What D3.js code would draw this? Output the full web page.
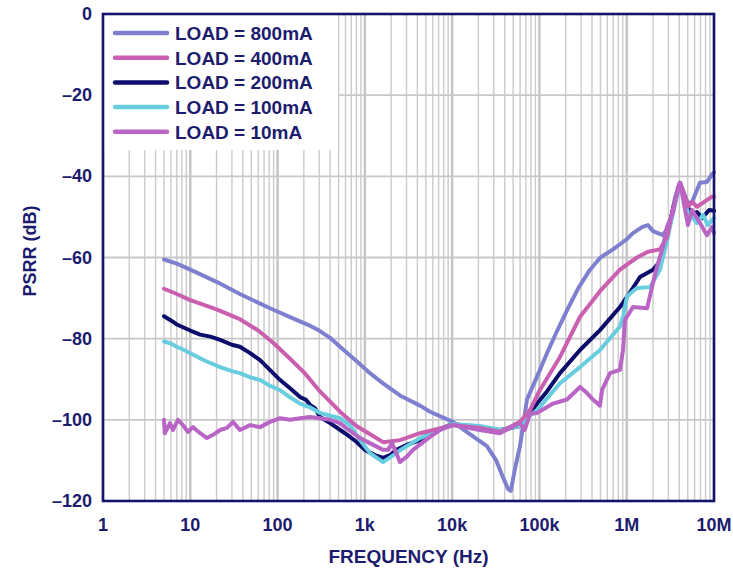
<!DOCTYPE html>
<html>
<head>
<meta charset="utf-8">
<script src="https://cdn.jsdelivr.net/npm/d3@7"></script>
<style>
  body { margin: 0; background: #fff; }
  svg text { font-family: "Liberation Sans", Arial, sans-serif; font-weight: bold; fill: #1c1c6e; }
</style>
</head>
<body>
<svg id="chart" width="733" height="569"></svg>
<script>
// series: [frequency Hz, PSRR dB]
const load800 = [[5,-60.5],[7,-61.5],[10,-63],[20,-66],[37,-69],[82,-72.5],[150,-75],[235,-76.8],[300,-78],[400,-79.8],[519,-82],[800,-85.5],
  [1145,-88.5],[1615,-91],[2525,-94],[4285,-96.5],[5575,-98],[10200,-100.5],[14800,-103],[25000,-106.5],[32000,-110],
  [38000,-114],[43600,-117],[47000,-117.5],[52500,-112],[59800,-106.5],[66000,-100.5],[72000,-95],[100000,-88],[122000,-83.6],
  [160000,-78],[207000,-73],[280000,-67.5],[380000,-63],[500000,-60],[696000,-58],[1000000,-55.5],[1180000,-54],[1500000,-52.5],
  [1750000,-52],[2000000,-53.5],[2600000,-54.5],[3100000,-52],[3600000,-45],[4080000,-41.6],[4500000,-44],[5030000,-46.6],
  [5600000,-46.3],[6900000,-41.6],[8300000,-41.4],[9490000,-39.5],[10000000,-39]];
const load400 = [[5,-67.7],[7,-69],[10,-70.5],[20,-72.8],[37,-75.2],[60,-78],[89,-81],[140,-85],[205,-88.5],[306,-93],[519,-98],
  [800,-101.5],[1240,-104],[1615,-105.5],[2525,-105],[4285,-103.3],[10200,-101.3],[20800,-102],[35300,-103],[59800,-100.5],
  [78000,-97.6],[101000,-92.7],[172000,-84.5],[292000,-74.6],[494000,-68.3],[837000,-63],[1310000,-60],[1750000,-58.6],
  [2400000,-58],[2890000,-55],[3390000,-48],[4080000,-41.6],[4500000,-44],[5030000,-47.5],[5600000,-46.3],[6400000,-47.5],
  [7500000,-46.5],[9490000,-45],[10000000,-45]];
const load200 = [[5,-74.5],[6,-75.5],[7,-76.5],[8.5,-77.3],[10,-78],[13,-79],[17,-79.5],[22,-80.3],[30,-81.5],[37,-82],
  [48,-83.5],[63,-85.3],[80,-87.5],[107,-90.2],[140,-92.3],[181,-94.4],[210,-95],[235,-96.3],[270,-97.2],
  [306,-99.3],[400,-100.8],[592,-103.3],[800,-105.4],[1000,-107.4],[1300,-108.7],[1615,-109.4],[1950,-108.7],[2300,-107.4],
  [3000,-106.2],[4285,-105],[5575,-103.3],[10200,-101],[14800,-101.5],[20800,-101.8],[35300,-102.5],[59800,-101.5],
  [68000,-100],[78000,-98.5],[93800,-96],[122000,-93],[172000,-88.5],[292000,-82.8],[494000,-77.9],[837000,-72.2],
  [1180000,-67.5],[1420000,-64.8],[2000000,-63],[2400000,-61],[2890000,-55],[3390000,-48],[4080000,-41.6],[4500000,-45],
  [5030000,-47.5],[5600000,-50],[6380000,-48.8],[7300000,-50.3],[8800000,-48.3],[10000000,-48.5]];
const load100 = [[5,-80.7],[6,-81.2],[7,-82],[8.5,-82.8],[10,-83.6],[15,-85.5],[22,-87],[30,-88],[37,-88.5],[48,-89.5],
  [63,-90.2],[80,-91.5],[107,-92.7],[140,-94.5],[181,-96],[240,-97],[306,-98.3],[400,-99],[519,-99.6],
  [676,-101.3],[880,-105],[1145,-108.2],[1615,-110.4],[2300,-108.2],[2525,-107.5],[4285,-104.5],[7260,-102.5],[10200,-101],
  [20800,-101.5],[35300,-102.5],[59800,-101.5],[78000,-99],[93800,-97.6],[172000,-91],[292000,-87],[494000,-82.8],
  [837000,-77],[906000,-74.7],[1010000,-69.5],[1310000,-67.5],[1850000,-67.3],[2400000,-63],[2890000,-56],[3390000,-49],
  [4080000,-41.6],[4500000,-45],[5030000,-49],[5600000,-50],[6380000,-51.5],[7500000,-49.5],[8500000,-52],[10000000,-50.3]];
const load10 = [[5,-100],[5.1,-103.3],[5.86,-100.8],[6.34,-102.5],[7.23,-100],[8.25,-101.3],[9.4,-103],[10.7,-101.8],
  [13,-103.3],[15.5,-104.5],[18.2,-103.7],[22,-102.5],[26.3,-102],[30.8,-100.5],[37,-102.5],[48.3,-101.3],[63,-101.8],
  [82,-100.5],[107,-99.6],[139,-100],[181,-99.6],[235,-99.3],[306,-99.6],[399,-100],[519,-100.8],[592,-101.8],[880,-104.5],
  [1615,-107.4],[1840,-107.4],[2050,-105.7],[2525,-110.4],[3040,-109],[3560,-107.4],[5575,-104.2],[7260,-102.5],
  [10200,-101.3],[20800,-102.5],[35300,-103.3],[59800,-100.8],[68000,-102.5],[78000,-98.5],[93800,-98.3],[143000,-96],
  [207000,-95],[292000,-91.9],[351000,-93.4],[411000,-95],[494000,-96.5],[521000,-92.7],[643000,-88.5],[837000,-87.7],
  [906000,-82.8],[955000,-75.4],[1180000,-72.2],[1710000,-72.5],[2000000,-66.3],[2220000,-62.3],[2600000,-57.4],
  [2890000,-52.5],[3390000,-49],[3870000,-42.6],[4080000,-41.6],[5030000,-52],[5600000,-48.3],[6910000,-51.5],
  [8300000,-54.5],[9490000,-52.5],[10000000,-54]];

const labels = ["LOAD = 800mA", "LOAD = 400mA", "LOAD = 200mA", "LOAD = 100mA", "LOAD = 10mA"];
const colors = ["#7e80cf", "#c95fae", "#0c0c6c", "#69cde0", "#b965c5"];
const seriesData = [load800, load400, load200, load100, load10];
const drawOrder = [0, 2, 3, 1, 4];

const xTicks = [1, 10, 100, 1e3, 1e4, 1e5, 1e6, 1e7];
const xTickLabels = ["1", "10", "100", "1k", "10k", "100k", "1M", "10M"];
const yTicks = [0, -20, -40, -60, -80, -100, -120];

const margin = {left: 103, right: 19, top: 14, bottom: 68};
const width = 733, height = 569;

const svg = d3.select("#chart");
const x = d3.scaleLog().domain([1, 1e7]).range([margin.left, width - margin.right]);
const y = d3.scaleLinear().domain([0, -120]).range([margin.top, height - margin.bottom]);

// grid
const minor = [];
for (let d = 1; d < 1e7; d *= 10) {
  for (let k = 2; k <= 9; k++) minor.push(d * k);
}
svg.append("g")
  .selectAll("line")
  .data(minor)
  .enter().append("line")
  .attr("x1", d => x(d)).attr("x2", d => x(d))
  .attr("y1", y(0)).attr("y2", y(-120))
  .attr("stroke", "#cbcbcb").attr("stroke-width", 1.4);

svg.append("g")
  .selectAll("line")
  .data(xTicks)
  .enter().append("line")
  .attr("x1", d => x(d)).attr("x2", d => x(d))
  .attr("y1", y(0)).attr("y2", y(-120))
  .attr("stroke", "#c4c4c4").attr("stroke-width", 2.4);

svg.append("g")
  .selectAll("line")
  .data(yTicks.slice(1, -1))
  .enter().append("line")
  .attr("x1", x(1)).attr("x2", x(1e7))
  .attr("y1", d => y(d)).attr("y2", d => y(d))
  .attr("stroke", "#c8c8c8").attr("stroke-width", 1.8);

// legend background hides the grid
svg.append("rect")
  .attr("x", x(1)).attr("y", y(0))
  .attr("width", 235).attr("height", 136)
  .attr("fill", "#fff");

// curves
const line = d3.line()
  .x(d => x(d[0]))
  .y(d => y(d[1]));

svg.append("g")
  .selectAll("path")
  .data(drawOrder)
  .enter().append("path")
  .attr("d", i => line(seriesData[i]))
  .attr("fill", "none")
  .attr("stroke", i => colors[i])
  .attr("stroke-width", 4)
  .attr("stroke-linejoin", "round")
  .attr("stroke-linecap", "round");

// frame
svg.append("rect")
  .attr("x", x(1)).attr("y", y(0))
  .attr("width", x(1e7) - x(1)).attr("height", y(-120) - y(0))
  .attr("fill", "none")
  .attr("stroke", "#14146e")
  .attr("stroke-width", 2.6);

// axes labels
svg.append("g")
  .selectAll("text")
  .data(xTicks)
  .enter().append("text")
  .attr("x", d => x(d))
  .attr("y", 531)
  .attr("text-anchor", "middle")
  .style("font-size", "18px")
  .text((d, i) => xTickLabels[i]);

svg.append("g")
  .selectAll("text")
  .data(yTicks)
  .enter().append("text")
  .attr("x", 92)
  .attr("y", d => y(d) + 6)
  .attr("text-anchor", "end")
  .style("font-size", "18px")
  .text(d => d === 0 ? "0" : "\u2013" + Math.abs(d));

svg.append("text")
  .attr("x", (x(1) + x(1e7)) / 2)
  .attr("y", 563)
  .attr("text-anchor", "middle")
  .style("font-size", "19px")
  .text("FREQUENCY (Hz)");

svg.append("text")
  .attr("transform", "translate(36, 251) rotate(-90)")
  .attr("text-anchor", "middle")
  .style("font-size", "18px")
  .text("PSRR (dB)");

// legend
const leg = svg.append("g")
  .selectAll("g")
  .data(labels)
  .enter().append("g")
  .attr("transform", (d, i) => `translate(115, ${33 + i * 24.7})`);

leg.append("line")
  .attr("x1", 0).attr("x2", 52)
  .attr("stroke", (d, i) => colors[i])
  .attr("stroke-width", 4.5)
  .attr("stroke-linecap", "round");

leg.append("text")
  .attr("x", 60)
  .attr("y", 7)
  .style("font-size", "19px")
  .text(d => d);
</script>
</body>
</html>
